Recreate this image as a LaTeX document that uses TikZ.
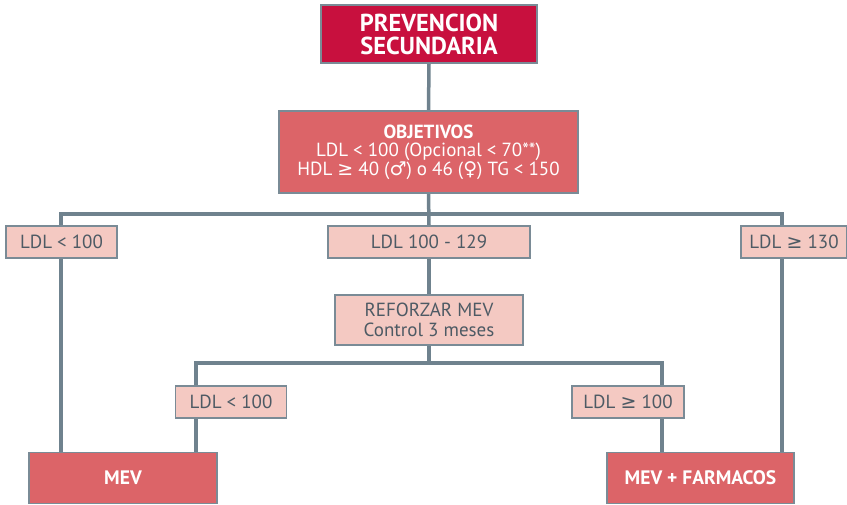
\documentclass[tikz,border=0pt]{standalone}
\usepackage{fontspec}
\setmainfont{PT Sans}
\newfontfamily\symf{DejaVu Sans}
\usetikzlibrary{backgrounds}
\definecolor{crim}{HTML}{C8103E}
\definecolor{rosa}{HTML}{DC6468}
\definecolor{pale}{HTML}{F4C9C2}
\definecolor{edge}{HTML}{7A8B96}
\definecolor{wire}{HTML}{6F828E}
\definecolor{ink}{HTML}{4D5A64}
\tikzset{
  base/.style={rectangle, draw=edge, line width=1.6pt, inner sep=0pt, align=center, font=\fontsize{19}{19}\selectfont},
  titlebox/.style={base, fill=crim, text=white, font=\fontsize{24.5}{23}\selectfont\bfseries},
  redbox/.style={base, fill=rosa, text=white, font=\fontsize{19}{18.5}\selectfont},
  palebox/.style={base, fill=pale, text=ink, font=\fontsize{19}{20}\selectfont},
  endbox/.style={base, fill=rosa, text=white, font=\fontsize{19.5}{20}\selectfont\bfseries},
  wireline/.style={draw=wire, line width=3.5pt}
}
\begin{document}
\begin{tikzpicture}[x=1pt,y=-1pt]
\useasboundingbox (0,0) rectangle (847,504);
\node[titlebox, minimum width=216, minimum height=58] (top) at (429,34) {PREVENCION\\SECUNDARIA};
\node[redbox, minimum width=299, minimum height=82] (obj) at (428.5,152) {\textbf{OBJETIVOS}\\LDL < 100 (Opcional < 70**)\\HDL {\symf ≥} 40 ({\symf ♂}) o 46 ({\symf ♀}) TG < 150};
\node[palebox, minimum width=111, minimum height=32] (l1) at (61.5,242) {LDL < 100};
\node[palebox, minimum width=202, minimum height=32] (l2) at (429,242) {LDL 100 - 129};
\node[palebox, minimum width=106, minimum height=32] (l3) at (794,242) {LDL {\symf ≥} 130};
\node[palebox, minimum width=188, minimum height=50] (ref) at (429,320) {REFORZAR MEV\\Control 3 meses};
\node[palebox, minimum width=111, minimum height=32] (l4) at (231,402) {LDL < 100};
\node[palebox, minimum width=112, minimum height=32] (l5) at (628,402) {LDL {\symf ≥} 100};
\node[endbox, minimum width=188, minimum height=51] (mev) at (123,478) {MEV};
\node[endbox, minimum width=187, minimum height=51] (far) at (700.5,478) {MEV + FARMACOS};
\coordinate (j1) at (429,214);
\coordinate (j2) at (429,363);
\coordinate (a1) at (61,0);
\coordinate (a3) at (782,0);
\coordinate (a4) at (196,0);
\coordinate (a5) at (662,0);
\begin{scope}[on background layer]
\draw[wireline] (top.south) -- (obj.north);
\draw[wireline] (obj.south) -- (l2.north);
\draw[wireline] (j1) -| (a1 |- l1.north);
\draw[wireline] (j1) -| (a3 |- l3.north);
\draw[wireline] (a1 |- l1.south) -- (a1 |- mev.north);
\draw[wireline] (a3 |- l3.south) -- (a3 |- far.north);
\draw[wireline] (l2.south) -- (ref.north);
\draw[wireline] (ref.south) -- (j2);
\draw[wireline] (j2) -| (a4 |- l4.north);
\draw[wireline] (j2) -| (a5 |- l5.north);
\draw[wireline] (a4 |- l4.south) -- (a4 |- mev.north);
\draw[wireline] (a5 |- l5.south) -- (a5 |- far.north);
\end{scope}
\end{tikzpicture}
\end{document}
